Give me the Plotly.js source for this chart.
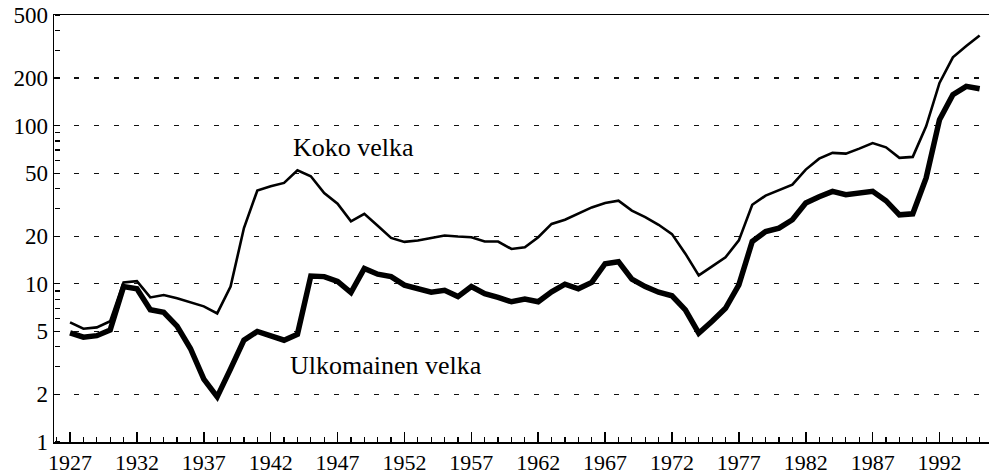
<!DOCTYPE html>
<html>
<head>
<meta charset="utf-8">
<script src="https://cdn.plot.ly/plotly-3.0.1.min.js"></script>
<style>html,body{margin:0;padding:0;background:#fff;}#chart{width:990px;height:475px;}</style>
</head>
<body>
<div id="chart"></div>
<script>
// Years 1927–1995
const years = [];
for (let y = 1927; y <= 1995; y++) years.push(y);

// Koko velka (total debt)
const kokoVelka = [
  5.7, 5.2, 5.3, 5.8, 10.2, 10.4, 8.2, 8.5, 8.1, 7.6,
  7.2, 6.5, 9.6, 22.5, 38.9, 41.3, 43.4, 52.1, 47.8, 37.5,
  32.1, 24.8, 27.7, 23.3, 19.5, 18.4, 18.8, 19.5, 20.2, 19.9,
  19.7, 18.5, 18.5, 16.6, 17.0, 19.7, 23.9, 25.4, 27.7, 30.4,
  32.4, 33.5, 29.0, 26.4, 23.6, 20.6, 15.5, 11.3, 12.9, 14.7,
  18.8, 31.6, 36.1, 38.9, 42.3, 52.7, 61.8, 67.2, 66.5, 71.5,
  77.6, 72.9, 62.5, 63.4, 99, 186, 270, 318, 371
];

// Ulkomainen velka (foreign debt)
const ulkomainenVelka = [
  4.9, 4.6, 4.7, 5.1, 9.6, 9.3, 6.85, 6.6, 5.4, 3.9,
  2.5, 1.93, 2.9, 4.4, 5.0, 4.7, 4.4, 4.8, 11.2, 11.1,
  10.35, 8.8, 12.5, 11.5, 11.1, 9.8, 9.25, 8.85, 9.1, 8.3,
  9.6, 8.65, 8.2, 7.7, 8.0, 7.7, 8.9, 9.95, 9.3, 10.2,
  13.4, 13.8, 10.7, 9.6, 8.85, 8.4, 6.85, 4.87, 5.8, 7.0,
  9.85, 18.5, 21.4, 22.5, 25.4, 32.4, 35.5, 38.4, 36.6, 37.5,
  38.4, 33.5, 27.3, 27.7, 46.7, 109, 157, 177, 171
];

const yMajor = [1, 2, 5, 10, 20, 50, 100, 200, 500];
const yMinor = [3, 4, 6, 7, 8, 9, 30, 40, 60, 70, 80, 90, 300, 400];
const xLabels = [1927, 1932, 1937, 1942, 1947, 1952, 1957, 1962, 1967, 1972, 1977, 1982, 1987, 1992];

const serif = 'Liberation Serif, Times New Roman, serif';
const xRange = [1925.8, 1995.7];
const yRange = [0, Math.log10(500)];

const traces = [
  {x: years, y: kokoVelka, type: 'scatter', mode: 'lines', name: 'Koko velka',
   xaxis: 'x2', yaxis: 'y2', line: {color: '#000', width: 2.6}},
  {x: years, y: ulkomainenVelka, type: 'scatter', mode: 'lines', name: 'Ulkomainen velka',
   line: {color: '#000', width: 5.5}}
];

const layout = {
  width: 990, height: 475,
  margin: {l: 54, r: 1, t: 15, b: 33},
  paper_bgcolor: '#fff', plot_bgcolor: '#fff',
  showlegend: false,
  font: {family: serif, color: '#000', size: 22},
  xaxis: {
    range: xRange,
    tickmode: 'array', tickvals: xLabels, ticktext: xLabels.map(String),
    ticks: '', showgrid: false, zeroline: false,
    showline: true, linecolor: '#000', linewidth: 1.5, mirror: true,
    tickfont: {family: serif, size: 22, color: '#000'}
  },
  // tick-only axis sitting on the bottom edge, ticks pointing up into the plot
  xaxis2: {
    range: xRange, overlaying: 'x', side: 'top', anchor: 'free', position: 0,
    tickmode: 'array', tickvals: xLabels, showticklabels: false,
    ticks: 'outside', ticklen: 10, tickwidth: 1.5, tickcolor: '#000',
    minor: {dtick: 1, tick0: 1927, ticks: 'outside', ticklen: 5, tickwidth: 1.2, tickcolor: '#000', showgrid: false},
    showgrid: false, zeroline: false, showline: false
  },
  yaxis: {
    type: 'log', range: yRange,
    tickmode: 'array', tickvals: yMajor, ticktext: yMajor.map(String),
    ticks: '',
    showgrid: true, gridcolor: '#111', gridwidth: 1.3, griddash: '5px,15px',
    zeroline: false,
    showline: true, linecolor: '#000', linewidth: 1.5,
    tickfont: {family: serif, size: 23, color: '#000'}
  },
  // tick-only axis sitting on the left edge, ticks pointing right into the plot
  yaxis2: {
    type: 'log', range: yRange, overlaying: 'y', side: 'right', anchor: 'free', position: 0,
    tickmode: 'array', tickvals: yMinor.concat(yMajor), showticklabels: false,
    ticks: 'outside', ticklen: 5, tickwidth: 1.2, tickcolor: '#000',
    showgrid: false, zeroline: false, showline: false
  },
  annotations: [
    {x: 1948.2, y: Math.log10(72.6), xref: 'x', yref: 'y', text: 'Koko velka', showarrow: false,
     font: {family: serif, size: 26, color: '#000'}},
    {x: 1950.6, y: Math.log10(3.03), xref: 'x', yref: 'y', text: 'Ulkomainen velka', showarrow: false,
     font: {family: serif, size: 26, color: '#000'}}
  ]
};

Plotly.newPlot('chart', traces, layout, {displayModeBar: false, staticPlot: true});
</script>
</body>
</html>
